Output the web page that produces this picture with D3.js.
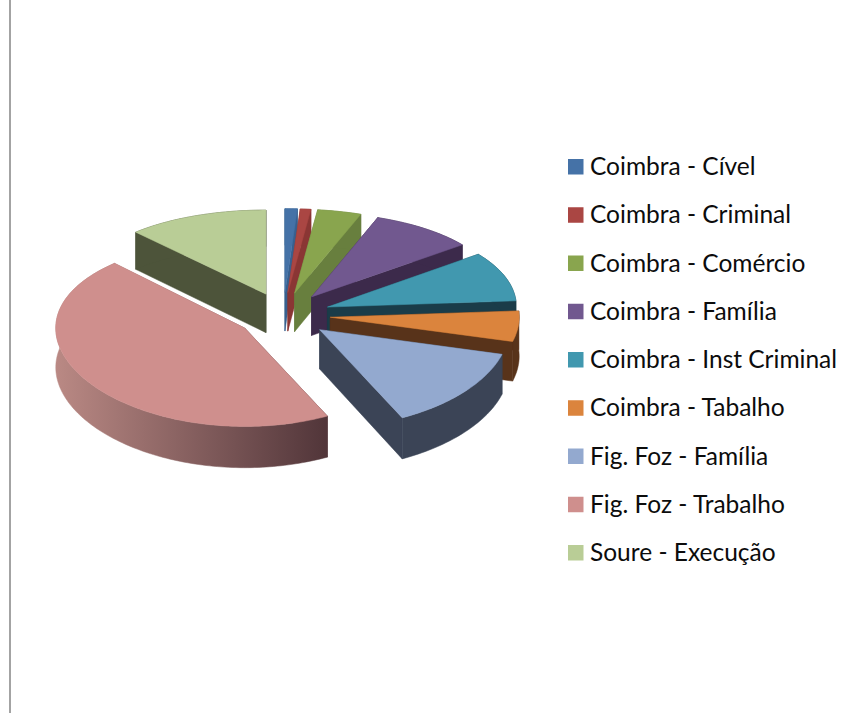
<!DOCTYPE html>
<html><head><meta charset="utf-8">
<script src="https://cdn.jsdelivr.net/npm/d3@7/dist/d3.min.js"></script>
<style>html,body{margin:0;padding:0;background:#fff;overflow:hidden}svg{display:block}</style>
</head><body><div id="chart"></div>
<script>
const categories = ["Coimbra - Cível","Coimbra - Criminal","Coimbra - Comércio","Coimbra - Família","Coimbra - Inst Criminal","Coimbra - Tabalho","Fig. Foz - Família","Fig. Foz - Trabalho","Soure - Execução"];
const values = [1.05,0.9,3.75,9.0,9.2,5.3,13.6,45.1,12.1];
const topColors = ["#4572a7","#aa4643","#89a54e","#71588f","#4198af","#db843d","#93a9cf","#cf8f8d","#b9cd96"];
const sideColors = ["#38608f","#8a3634","#687f3e","#3c2a4b","#1a3c49","#58331a","#3b4456","#8a5f5e","#4d543a"];
const drawOrder = [8,0,1,2,3,4,5,6,7];

const W=842,H=713, cx=283.4, cy=315, R=189, explode=47, tilt=0.485, persp=0.057, depthPersp=0.05, depth=39;
const svg=d3.select("#chart").append("svg").attr("width",W).attr("height",H);

const defs=svg.append("defs");
const grad=defs.append("linearGradient").attr("id","trabalhoSide").attr("gradientUnits","userSpaceOnUse")
  .attr("x1",53).attr("x2",325).attr("y1",0).attr("y2",0);
grad.append("stop").attr("offset",0).attr("stop-color","#bb8a85");
grad.append("stop").attr("offset",1).attr("stop-color","#52363a");

svg.append("line").attr("x1",10).attr("x2",10).attr("y1",0).attr("y2",H).attr("stroke","#a3a3a3").attr("stroke-width",2);

const arcs=d3.pie().sort(null).value(d=>d)(values);
// project a point of the pie plane onto the screen (h = drop below the top face)
function proj(X,Y,h){return [cx+X, cy+Y*tilt*(1+persp*Y/R)+h*(1+depthPersp*Y/R)];}
function polar(a,r,mid){return [Math.sin(mid)*explode+Math.sin(a)*r, -Math.cos(mid)*explode-Math.cos(a)*r];}
const line=d3.line();
const g=svg.append("g");
drawOrder.forEach(i=>{
  const a=arcs[i], mid=(a.startAngle+a.endAngle)/2, n=Math.max(3,Math.ceil((a.endAngle-a.startAngle)/0.02));
  const ang=d3.range(n+1).map(k=>a.startAngle+(a.endAngle-a.startAngle)*k/n);
  const pt=(an,r,h)=>{const p=polar(an,r,mid);return proj(p[0],p[1],h);};
  const side=i===7?"url(#trabalhoSide)":sideColors[i];
  const shape=(pts,fill)=>g.append("path").attr("d",line(pts)+"Z").attr("fill",fill).attr("stroke",fill).attr("stroke-width",0.5).attr("stroke-linejoin","round");
  // radial walls
  [a.startAngle,a.endAngle].forEach(an=>{
    shape([pt(an,0,0),pt(an,R,0),pt(an,R,depth),pt(an,0,depth)],side);
  });
  // outer wall
  shape(ang.map(an=>pt(an,R,0)).concat(ang.slice().reverse().map(an=>pt(an,R,depth))),side);
  // top face
  shape([pt(0,0,0)].concat(ang.map(an=>pt(an,R,0))),topColors[i]);
});

const legendY=d3.scalePoint().domain(categories).range([167,553]);
const lg=svg.append("g");
categories.forEach((c,i)=>{
  lg.append("rect").attr("x",568).attr("y",legendY(c)-8).attr("width",15.5).attr("height",15.5).attr("fill",topColors[i]);
  lg.append("text").attr("x",590).attr("y",legendY(c)+8).attr("font-family","Lato").attr("font-size",24.5).attr("fill","#0c0c0c").text(c);
});
</script></body></html>
